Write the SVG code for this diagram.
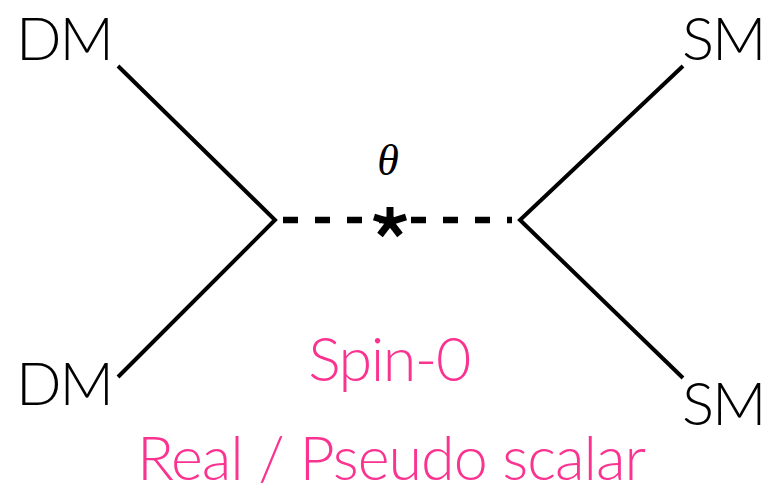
<svg xmlns="http://www.w3.org/2000/svg" width="766" height="485" viewBox="0 0 766 485">
<style>
.lbl{font-family:Lato,"Open Sans","Liberation Sans",sans-serif;font-weight:300;font-size:60px;fill:#000;letter-spacing:-2px}
.pink{font-family:Lato,"Open Sans","Liberation Sans",sans-serif;font-weight:300;font-size:61px;fill:#FB3390}
.leg{stroke:#000;stroke-width:4;fill:none;stroke-linecap:butt}
.med{stroke:#000;stroke-width:6.5;fill:none;stroke-dasharray:15 17}
</style>
<rect width="766" height="485" fill="#fff"/>
<g id="connectors">
<path class="leg" d="M118,66 L275,220 L118,377"/>
<path class="leg" d="M683,66 L520,220 L683,378"/>
<path class="med" d="M283,220 L512,220"/>
</g>
<g id="dm-top"><text class="lbl" x="16" y="60">DM</text></g>
<g id="dm-bottom"><text class="lbl" x="16" y="405">DM</text></g>
<g id="sm-top"><text class="lbl" x="682" y="60">SM</text></g>
<g id="sm-bottom"><text class="lbl" x="682" y="425">SM</text></g>
<g id="mediator">
<text x="388" y="175" text-anchor="middle" font-family="'Liberation Serif',serif" font-style="italic" font-size="44">θ</text>
<g stroke="#000" stroke-width="7" stroke-linecap="butt">
<line x1="390" y1="222" x2="390" y2="207"/>
<line x1="390" y1="222" x2="374" y2="217"/>
<line x1="390" y1="222" x2="406" y2="217"/>
<line x1="390" y1="222" x2="380" y2="235"/>
<line x1="390" y1="222" x2="400" y2="235"/>
</g>
</g>
<g id="caption">
<text class="pink" x="389" y="381" text-anchor="middle" letter-spacing="-1.5">Spin-0</text>
<text class="pink" x="391" y="480" text-anchor="middle" letter-spacing="-1">Real / Pseudo scalar</text>
</g>
</svg>
